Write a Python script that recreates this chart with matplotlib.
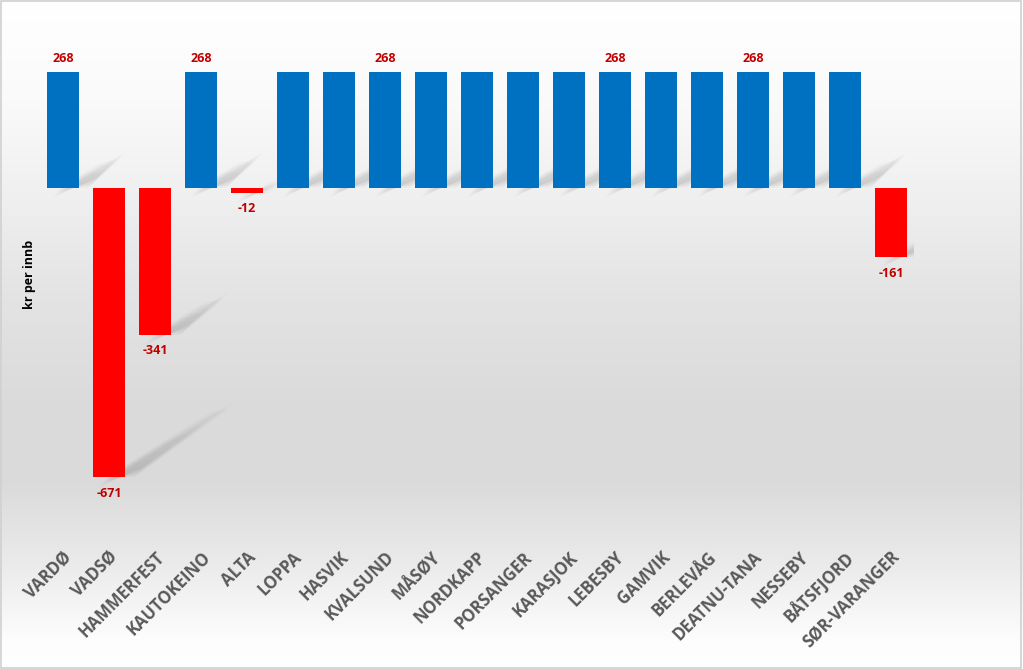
import numpy as np
import matplotlib.pyplot as plt
from matplotlib.patches import Polygon, Rectangle

municipalities = ["VARDØ", "VADSØ", "HAMMERFEST", "KAUTOKEINO", "ALTA", "LOPPA", "HASVIK",
                  "KVALSUND", "MÅSØY", "NORDKAPP", "PORSANGER", "KARASJOK", "LEBESBY",
                  "GAMVIK", "BERLEVÅG", "DEATNU-TANA", "NESSEBY", "BÅTSFJORD", "SØR-VARANGER"]
values = [268, -671, -341, 268, -12, 268, 268, 268, 268, 268, 268, 268, 268,
          268, 268, 268, 268, 268, -161]
show_label = [True, True, True, True, True, False, False, True, False, False, False,
              False, True, False, False, True, False, False, True]
y_title = "kr per innb"

W, H, DPI = 1023, 669, 100
fig = plt.figure(figsize=(W / DPI, H / DPI), dpi=DPI)
plt.rcParams['font.family'] = ['Open Sans', 'DejaVu Sans']

# background gradient
bg = fig.add_axes([0, 0, 1, 1], zorder=-10)
yy = np.array([0, 100, 200, 300, 400, 480, 560, 640, 669])
gg = np.array([255, 250, 239, 227, 219, 218, 234, 253, 255]) / 255.0
prof = np.interp(np.arange(H), yy, gg)
img = np.repeat(prof[:, None], 4, axis=1)
bg.imshow(np.dstack([img, img, img]), aspect='auto', extent=[0, 1, 0, 1], origin='upper')
bg.add_patch(Rectangle((0.001, 0.001), 0.997, 0.997, fill=False, ec='#d0d0d0', lw=1.2,
                       transform=bg.transAxes))
bg.axis('off')

ax = fig.add_axes([40 / W, 136 / H, 874 / W, 518 / H])
ax.set_facecolor('none')
x = np.arange(len(values))
w = 0.7
colors = ['#0070c0' if v >= 0 else '#ff0000' for v in values]
ax.bar(x, values, width=w, color=colors, zorder=3)

# soft diagonal shadows
for xi, v in zip(x, values):
    y0 = min(0, v)
    dx = 0.0034 * abs(v)
    dy = 0.23 * abs(v)
    xr = xi + w / 2
    nseg = 8
    for s in range(nseg):
        f0, f1 = s / nseg, (s + 1) / nseg
        a = 0.17 * (1 - 0.8 * f0)
        th0 = 0.6 * (1 - 0.45 * f0)
        th1 = 0.6 * (1 - 0.45 * f1)
        for k in range(6):
            e = 0.04 * k
            ey = 5 * k
            pts = [(xr - 0.4 + dx * f0 - e, y0 + dy * f0 - ey),
                   (xr - 0.4 + dx * f1 - e, y0 + dy * f1 - ey),
                   (xr - 0.4 + th1 + dx * f1 + e, y0 + dy * f1 + ey),
                   (xr - 0.4 + th0 + dx * f0 + e, y0 + dy * f0 + ey)]
            ax.add_patch(Polygon(pts, closed=True, fc='#5a5a5a', ec='none', alpha=a / 4.0,
                                 zorder=2))

for xi, v, sl in zip(x, values, show_label):
    if not sl:
        continue
    if v >= 0:
        ax.annotate(f"{v}", (xi, v), xytext=(0, 10), textcoords='offset points',
                    ha='center', va='center', fontsize=9, fontweight='bold', color='#c00000',
                    zorder=5)
    else:
        ax.annotate(f"{v}", (xi, v), xytext=(0, -11.5), textcoords='offset points',
                    ha='center', va='center', fontsize=9, fontweight='bold', color='#c00000',
                    zorder=5)

ax.set_xlim(-0.5, len(values) - 0.5)
ax.set_ylim(-800, 400)
ax.set_xticks(x)
ax.set_xticklabels(municipalities, rotation=45, ha='right', rotation_mode='anchor',
                   fontsize=12, fontweight='bold', color='#595959')
ax.tick_params(axis='x', length=0, pad=11)
ax.set_yticks([])
for sp in ax.spines.values():
    sp.set_visible(False)
ax.set_ylabel(y_title, fontsize=9, fontweight='bold', color='black')
ax.yaxis.set_label_coords(-4 / 874, 0.5)

fig.savefig('out.png', dpi=DPI)
